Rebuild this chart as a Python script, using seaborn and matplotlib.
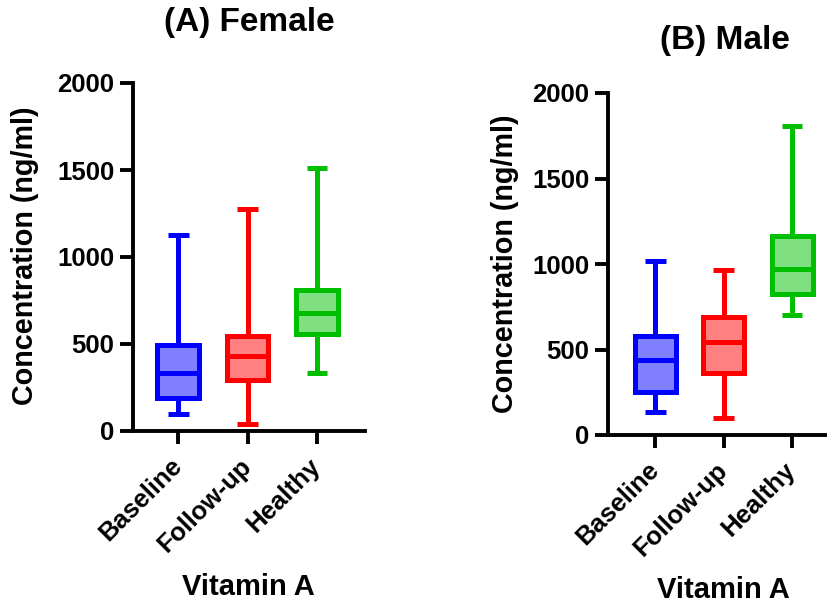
import numpy as np
import pandas as pd
import seaborn as sns
import matplotlib
matplotlib.use("Agg")
import matplotlib.pyplot as plt

# ---- data (five-number summaries: min, Q1, median, Q3, max)
groups = ["Baseline", "Follow-up", "Healthy"]
female_baseline = [100, 190, 335, 494, 1124]
female_followup = [42, 291, 431, 548, 1278]
female_healthy = [335, 559, 680, 808, 1513]
male_baseline = [133, 254, 439, 581, 1015]
male_followup = [101, 365, 546, 689, 966]
male_healthy = [700, 825, 972, 1161, 1805]
yticks = [0, 500, 1000, 1500, 2000]
titles = ["(A) Female", "(B) Male"]
xlabel = "Vitamin A"
ylabel = "Concentration (ng/ml)"

edge_colors = ["#0000FF", "#FF0000", "#00BE00"]
face_colors = ["#8080FF", "#FF8080", "#80DF80"]

sns.set_theme(style="ticks")
plt.rcParams["font.family"] = ["Liberation Sans", "DejaVu Sans"]
plt.rcParams["font.weight"] = "bold"
for k in ["text.color", "axes.labelcolor", "xtick.color", "ytick.color", "axes.edgecolor"]:
    plt.rcParams[k] = "black"

W, H = 828, 603
fig = plt.figure(figsize=(W / 100, H / 100), dpi=100)


def px_axes(left, right, top, bottom):
    return fig.add_axes([left / W, 1 - bottom / H, (right - left) / W, (bottom - top) / H])


panels = [
    dict(data=[female_baseline, female_followup, female_healthy],
         box=(133, 365, 83, 431), xlim=(-0.65, 2.69),
         title_xy=(249, 23), xlab_xy=(248, 587), ylab_xy=(25, 256)),
    dict(data=[male_baseline, male_followup, male_healthy],
         box=(608, 838, 93, 435), xlim=(-0.69, 2.67),
         title_xy=(725, 40), xlab_xy=(723, 590), ylab_xy=(505, 264)),
]

for i, p in enumerate(panels):
    ax = px_axes(*p["box"])
    rows = []
    for g, vals in zip(groups, p["data"]):
        for v in vals:
            rows.append({"group": g, "value": v})
    df = pd.DataFrame(rows)
    for g, fc, ec in zip(groups, face_colors, edge_colors):
        sub = df[df["group"] == g]
        sns.boxplot(data=sub, x="group", y="value", order=groups, ax=ax,
                    whis=(0, 100), width=0.6, color=fc, linecolor=ec,
                    saturation=1, linewidth=3.6, showfliers=False,
                    boxprops=dict(joinstyle="miter"),
                    capprops=dict(solid_capstyle="butt"),
                    whiskerprops=dict(solid_capstyle="butt"),
                    medianprops=dict(solid_capstyle="butt"))
    ax.set_xlim(*p["xlim"])
    ax.set_ylim(0, 2000)
    ax.set_yticks(yticks)
    ax.set_yticklabels([str(t) for t in yticks], fontsize=18.5, fontweight="bold")
    ax.set_xticks(range(len(groups)))
    ax.set_xticklabels(groups, fontsize=18.5, fontweight="bold", rotation=45,
                       ha="right", va="center", rotation_mode="anchor")
    ax.set_xlabel("")
    ax.set_ylabel("")
    for s in ["top", "right"]:
        ax.spines[s].set_visible(False)
    for s in ["left", "bottom"]:
        ax.spines[s].set_linewidth(2.8)
        ax.spines[s].set_color("black")
    ax.tick_params(axis="both", direction="out", length=9.5, width=2.8, colors="black", pad=4)
    ax.tick_params(axis="x", pad=13)
    ax.set_facecolor("white")

    tx, ty = p["title_xy"]
    fig.text(tx / W, 1 - ty / H, titles[i], fontsize=24, fontweight="bold",
             ha="center", va="center", color="black")
    lx, ly = p["xlab_xy"]
    fig.text(lx / W, 1 - ly / H, xlabel, fontsize=21, fontweight="bold",
             ha="center", va="center", color="black")
    yx, yy = p["ylab_xy"]
    fig.text(yx / W, 1 - yy / H, ylabel, fontsize=20.7, fontweight="bold",
             ha="center", va="center", rotation=90, color="black")

fig.savefig("out.png", dpi=100, facecolor="white")
